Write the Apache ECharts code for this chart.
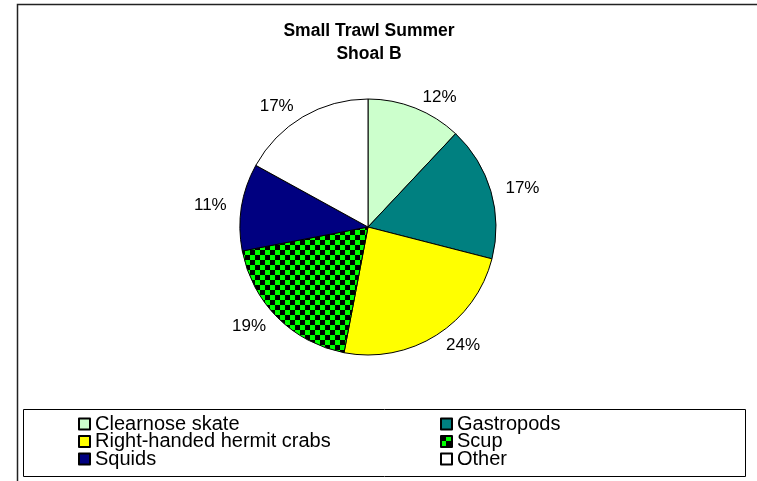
<!DOCTYPE html>
<html>
<head>
  <meta charset="UTF-8">
  <title>Small Trawl Summer Shoal B</title>
  <script src="https://cdn.jsdelivr.net/npm/echarts@6/dist/echarts.min.js"></script>
  <style>
    body { margin: 0; padding: 0; background: #fff; }
    #chart { width: 757px; height: 481px; }
  </style>
</head>
<body>
  <div id="chart"></div>
  <script>
    // data
    var categories = ['Clearnose skate', 'Gastropods', 'Right-handed hermit crabs', 'Scup', 'Squids', 'Other'];
    var shares = [12, 17, 24, 19, 11, 17];
    var colors = ['#ccffcc', '#008080', '#ffff00', '#00ff00', '#000080', '#ffffff'];
    var legendLeft = ['Clearnose skate', 'Right-handed hermit crabs', 'Squids'];
    var legendRight = ['Gastropods', 'Scup', 'Other'];

    var font = '"Liberation Sans", Arial, sans-serif';

    // green / black checkerboard for Scup
    function checker() {
      var c = document.createElement('canvas');
      c.width = 10; c.height = 10;
      var g = c.getContext('2d');
      g.fillStyle = '#00ff00';
      g.fillRect(0, 0, 10, 10);
      g.fillStyle = '#000000';
      g.fillRect(0, 0, 5, 5);
      g.fillRect(5, 5, 5, 5);
      return c;
    }

    var pieData = [];
    for (var i = 0; i < categories.length; i++) {
      var col = colors[i];
      if (categories[i] === 'Scup') col = { image: checker(), repeat: 'repeat' };
      pieData.push({ name: categories[i], value: shares[i], itemStyle: { color: col } });
    }

    var legendCommon = {
      orient: 'vertical',
      top: 414,
      padding: 0,
      itemWidth: 11,
      itemHeight: 11,
      itemGap: -2.5,
      icon: 'rect',
      selectedMode: false,
      textStyle: { fontFamily: font, fontSize: 20, color: '#000', lineHeight: 17.5 }
    };

    var chart = echarts.init(document.getElementById('chart'));
    chart.setOption({
      animation: false,
      backgroundColor: '#fff',
      title: {
        text: 'Small Trawl Summer\nShoal B',
        left: 364,
        top: 15,
        textAlign: 'center',
        textStyle: { fontFamily: font, fontSize: 17.5, fontWeight: 'bold', color: '#000', lineHeight: 23 }
      },
      legend: [
        Object.assign({}, legendCommon, { left: 78, data: legendLeft }),
        Object.assign({}, legendCommon, { left: 440, data: legendRight })
      ],
      graphic: [
        {
          type: 'rect', z: -10, silent: true,
          shape: { x: 17.5, y: 4.5, width: 800, height: 600 },
          style: { fill: null, stroke: '#222', lineWidth: 1.5 }
        },
        {
          type: 'rect', z: -10, silent: true,
          shape: { x: 23.5, y: 409.5, width: 722, height: 67 },
          style: { fill: null, stroke: '#000', lineWidth: 1 }
        }
      ],
      series: [{
        type: 'pie',
        center: [368, 227],
        radius: 128,
        startAngle: 90,
        clockwise: true,
        avoidLabelOverlap: false,
        itemStyle: { borderColor: '#000', borderWidth: 1 },
        emphasis: { disabled: true },
        label: {
          show: true,
          position: 'outside',
          formatter: function (p) { return Math.round(p.percent) + '%'; },
          fontFamily: font,
          fontSize: 17,
          color: '#000',
          distanceToLabelLine: 3
        },
        labelLine: { show: false, length: 12, length2: 0 },
        data: pieData
      }]
    });
  </script>
</body>
</html>
